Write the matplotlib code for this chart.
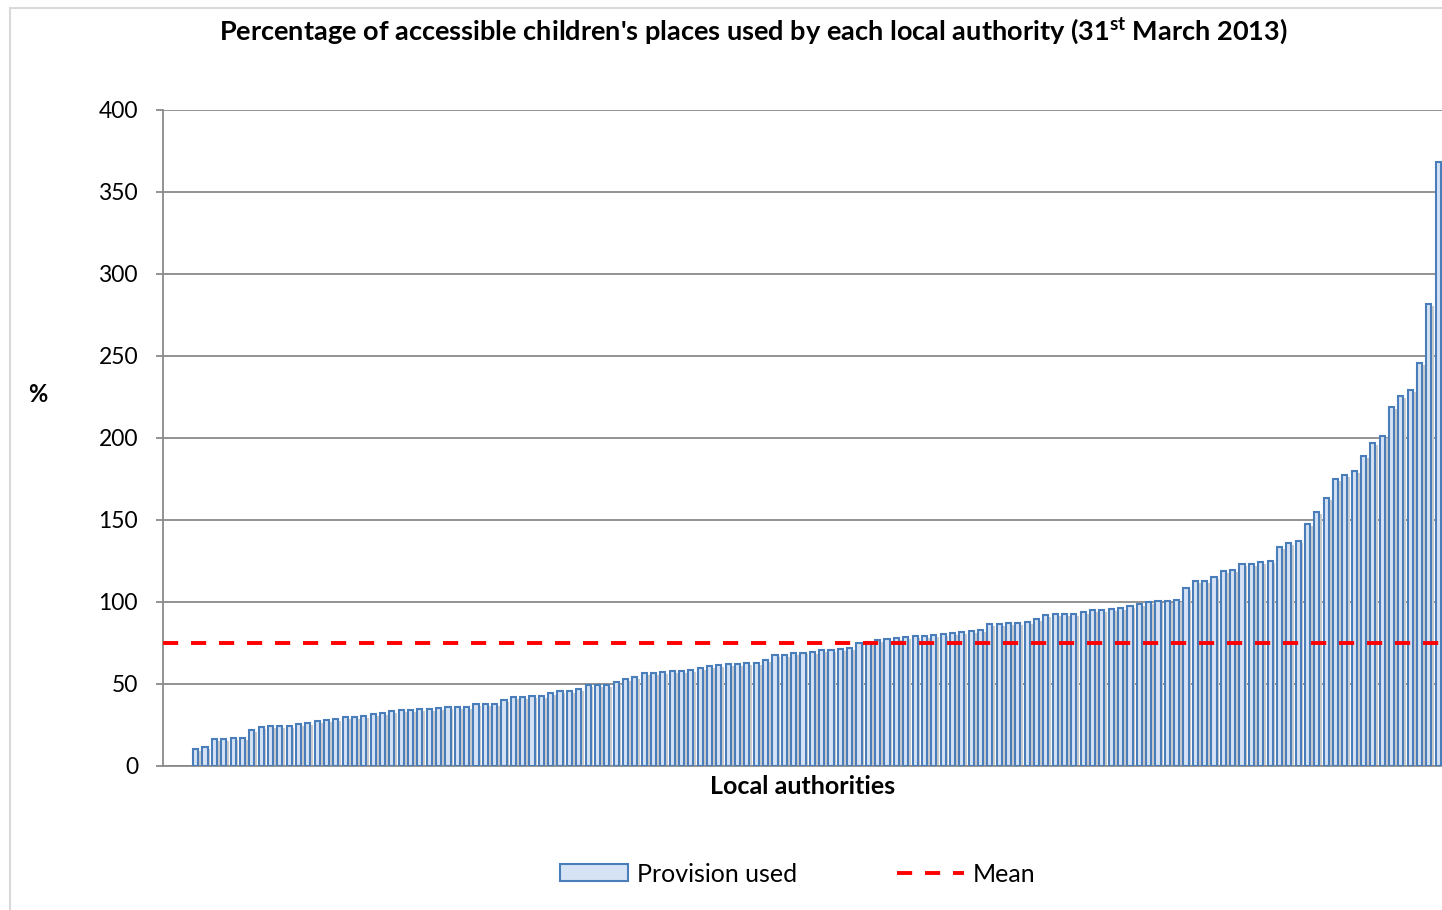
import numpy as np
import matplotlib
matplotlib.use("Agg")
import matplotlib.pyplot as plt
from matplotlib.patches import Rectangle, Patch
from matplotlib.lines import Line2D

# --- data (sorted, % of accessible places used) ---
# first three local authorities have no value shown
missing = [np.nan, np.nan, np.nan]
provision_used = [
    10.3, 11.3, 16.2, 16.4, 17.0, 17.0, 22.1, 23.5, 24.3, 24.5, 24.5, 25.5,
    26.1, 27.7, 27.9, 28.9, 29.6, 29.6, 30.2, 31.6, 32.4, 33.4, 34.0, 34.0,
    34.6, 35.0, 35.6, 35.8, 35.8, 36.0, 37.9,
    38.0, 38.0, 40.2, 41.9, 41.9, 42.9, 42.9, 44.5, 45.5, 45.9, 47.2, 49.2,
    49.2, 49.2, 51.2, 52.8, 54.3, 56.7, 56.7, 57.1, 57.7, 57.9, 58.5, 59.6,
    61.0, 61.6, 62.0, 62.2, 62.8, 63.0, 64.8, 67.9, 67.9, 68.9, 69.2,
    69.7, 70.7, 70.9, 71.5, 72.2, 74.8, 75.8, 77.0, 77.6, 78.3, 78.9, 79.1,
    79.1, 79.7, 80.7, 81.3, 81.5, 82.1, 83.1, 86.6, 86.8, 87.0, 87.4, 87.6,
    89.4, 92.3, 92.7, 92.7, 92.7, 93.9, 95.1, 95.3, 95.5,
    96.5, 97.6, 98.8, 99.8, 100.4, 100.4, 101.4, 108.7, 112.6, 113.0, 115.2,
    118.9, 119.3, 123.0, 123.0, 124.2, 124.8, 133.3, 135.8, 137.2, 147.4,
    154.9, 163.4, 174.8, 177.2, 179.7, 188.8, 197.0, 201.0, 218.7, 225.8,
    229.1, 246.0, 281.5, 368.3,
]
mean_value = 75
y_ticks = [0, 50, 100, 150, 200, 250, 300, 350, 400]

values = np.array(missing + provision_used, dtype=float)
x = np.arange(len(values))

plt.rcParams['font.family'] = ['Lato', 'DejaVu Sans']
plt.rcParams['mathtext.fontset'] = 'custom'
plt.rcParams['mathtext.rm'] = 'Lato:bold'
plt.rcParams['mathtext.bf'] = 'Lato:bold'

W, H = 1442, 910
fig = plt.figure(figsize=(W / 100, H / 100), dpi=100)

# light chart-area frame (cropped on the right and bottom)
fig.patches.append(Rectangle((10 / W, -0.1), 1.2, 1 - 8 / H + 0.1,
                             transform=fig.transFigure, fill=False,
                             edgecolor='#d9d9d9', linewidth=1.5))

ax = fig.add_axes([163 / W, 1 - 766 / H, 1 - 163 / W, (766 - 110) / H])

# soft shadow behind the bars
shadow_h = np.clip(values - 1.2, 0, None)
ax.bar(x + 0.3, shadow_h, width=0.55, color='#cccccc', linewidth=0, zorder=2)
ax.bar(x, values, width=0.55, color='#d6e3f5', edgecolor='#4a7ebb',
       linewidth=1.5, zorder=3)
ax.axhline(mean_value, color='#ff0000', linewidth=2.8, dashes=(3.9, 3.3),
           zorder=4)

ax.set_ylim(0, 400)
ax.set_xlim(-0.5, len(values) - 0.6)
ax.set_yticks(y_ticks)
ax.yaxis.grid(True, color='#8a8a8a', linewidth=1.3, zorder=0)
ax.set_axisbelow(True)
ax.tick_params(axis='y', length=5, width=1.3, color='#8a8a8a', pad=13,
               labelsize=16.5)
ax.tick_params(axis='x', bottom=False, labelbottom=False)
for side in ['top', 'right']:
    ax.spines[side].set_visible(False)
for side in ['left', 'bottom']:
    ax.spines[side].set_color('#8a8a8a')
    ax.spines[side].set_linewidth(1.3)

fig.text(753 / W, 1 - 31 / H,
         "Percentage of accessible children's places used by each local "
         "authority (31$^{\\mathrm{st}}$ March 2013)",
         ha='center', va='center', fontsize=19.5, fontweight='bold')
fig.text(38 / W, 1 - 395 / H, '%', ha='center', va='center', fontsize=17,
         fontweight='bold')
fig.text(803 / W, 1 - 787 / H, 'Local authorities', ha='center', va='center',
         fontsize=18, fontweight='bold')

handles = [Patch(facecolor='#d6e3f5', edgecolor='#4a7ebb', linewidth=1.5),
           Line2D([0], [0], color='#ff0000', linewidth=2.8, dashes=(3.9, 3.3))]
fig.legend(handles, ['Provision used', 'Mean'], loc='center',
           bbox_to_anchor=(798 / W, 1 - 874 / H), ncol=2, frameon=False,
           fontsize=18, handlelength=2.7, handleheight=0.65,
           handletextpad=0.35, columnspacing=4.0)

fig.savefig('out.png', dpi=100)
